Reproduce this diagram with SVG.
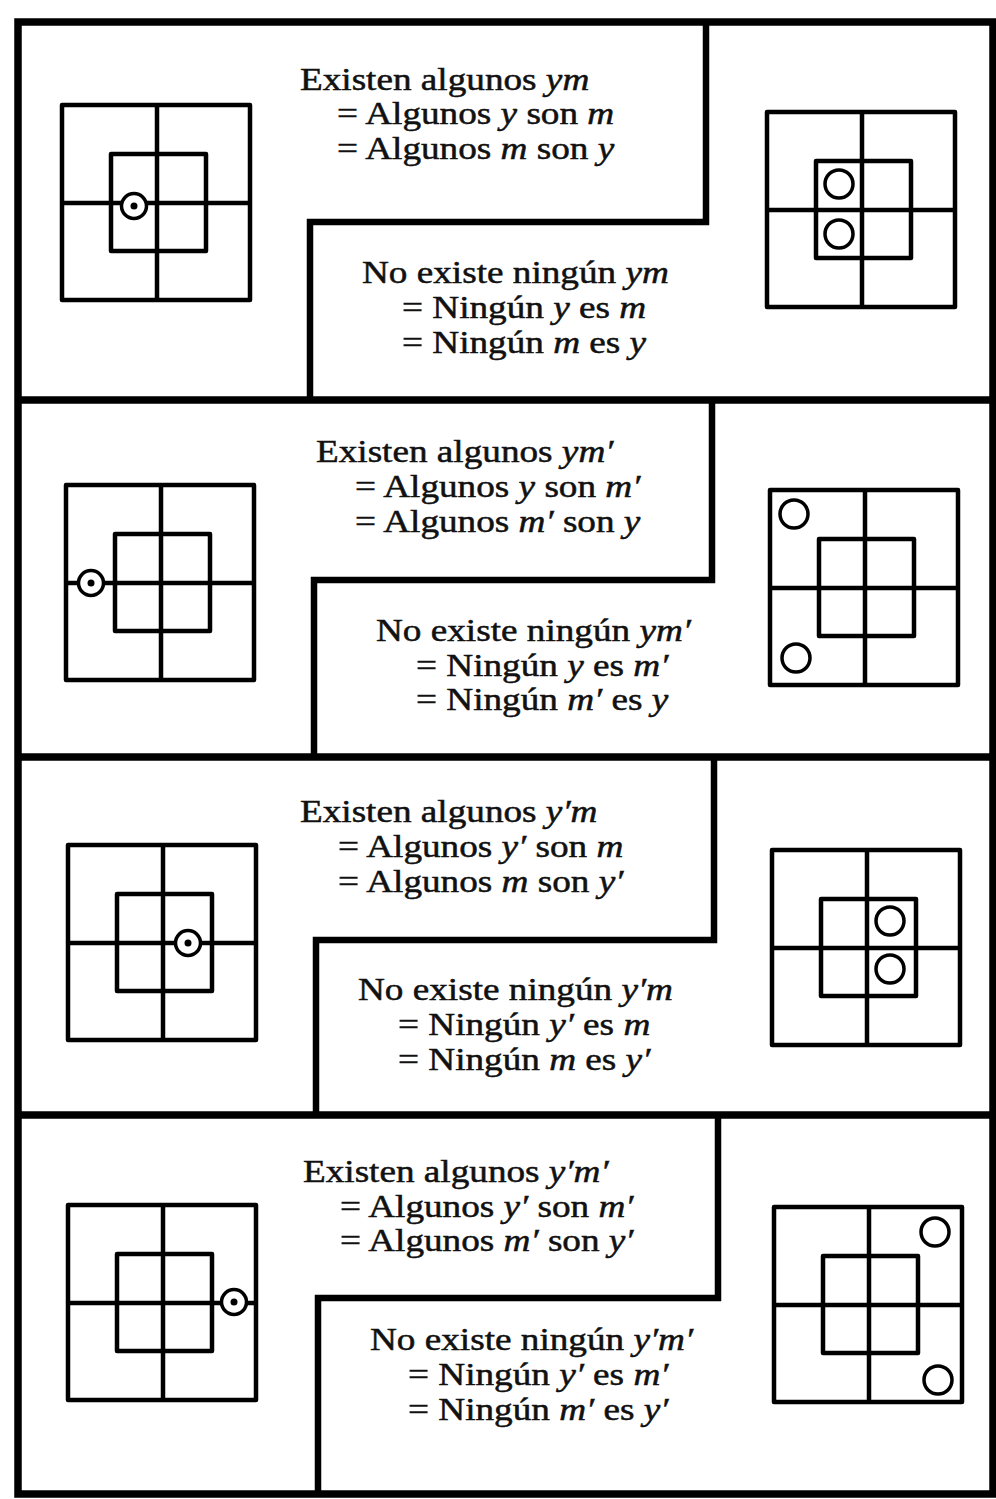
<svg xmlns="http://www.w3.org/2000/svg" xmlns:xlink="http://www.w3.org/1999/xlink" width="996" height="1499" viewBox="0 0 996 1499">
<style>
.frame{fill:none;stroke:#000;stroke-width:7.5;stroke-linejoin:miter}
.step{fill:none;stroke:#000;stroke-width:6.5;stroke-linejoin:miter}
.g{fill:none;stroke:#000;stroke-width:4.5;stroke-linejoin:round}
.c{fill:#fff;stroke:#000;stroke-width:3.5}
.dot{fill:#000}
.t{font-family:"Liberation Serif","Times New Roman",serif;font-size:31px;fill:#111;stroke:#111;stroke-width:0.5}
.i{font-style:italic}
</style>
<defs>
<g id="grid">
<rect class="g" x="0" y="0" width="188" height="195"/>
<line class="g" x1="95" y1="0" x2="95" y2="195"/>
<line class="g" x1="0" y1="98" x2="188" y2="98"/>
<rect class="g" x="49" y="49" width="95" height="97"/>
</g>
<g id="dc"><circle class="c" cx="0" cy="0" r="12.5"/><circle class="dot" cx="0" cy="0" r="3.5"/></g>
<circle id="oc" class="c" cx="0" cy="0" r="14"/>
</defs>
<rect width="996" height="1499" fill="#fff"/>
<g id="connectors"></g>
<g id="frame">
<rect class="frame" x="18" y="22" width="975" height="1472"/>
<line class="frame" x1="18" y1="400" x2="996" y2="400"/>
<line class="frame" x1="18" y1="757" x2="996" y2="757"/>
<line class="frame" x1="18" y1="1115" x2="996" y2="1115"/>
</g>

<g id="panel1">
<polyline class="step" points="706,22 706,222 310,222 310,400"/>
<use xlink:href="#grid" transform="translate(62,105)"/>
<use xlink:href="#dc" transform="translate(134,206)"/>
<use xlink:href="#grid" transform="translate(767,112)"/>
<use xlink:href="#oc" transform="translate(839,184)"/>
<use xlink:href="#oc" transform="translate(839,234)"/>
<text class="t" transform="translate(300,90) scale(1.2,1)">Existen algunos <tspan class="i">ym</tspan></text>
<text class="t" transform="translate(337,124) scale(1.2,1)">= Algunos <tspan class="i">y</tspan> son <tspan class="i">m</tspan></text>
<text class="t" transform="translate(337,159) scale(1.2,1)">= Algunos <tspan class="i">m</tspan> son <tspan class="i">y</tspan></text>
<text class="t" transform="translate(362,283) scale(1.2,1)">No existe ningún <tspan class="i">ym</tspan></text>
<text class="t" transform="translate(402,318) scale(1.2,1)">= Ningún <tspan class="i">y</tspan> es <tspan class="i">m</tspan></text>
<text class="t" transform="translate(402,353) scale(1.2,1)">= Ningún <tspan class="i">m</tspan> es <tspan class="i">y</tspan></text>
</g>

<g id="panel2">
<polyline class="step" points="712,400 712,580 314,580 314,757"/>
<use xlink:href="#grid" transform="translate(66,485)"/>
<use xlink:href="#dc" transform="translate(91,583)"/>
<use xlink:href="#grid" transform="translate(770,490)"/>
<use xlink:href="#oc" transform="translate(794,514)"/>
<use xlink:href="#oc" transform="translate(796,658)"/>
<text class="t" transform="translate(316,462) scale(1.2,1)">Existen algunos <tspan class="i">ym′</tspan></text>
<text class="t" transform="translate(355,497) scale(1.2,1)">= Algunos <tspan class="i">y</tspan> son <tspan class="i">m′</tspan></text>
<text class="t" transform="translate(355,532) scale(1.2,1)">= Algunos <tspan class="i">m′</tspan> son <tspan class="i">y</tspan></text>
<text class="t" transform="translate(376,641) scale(1.2,1)">No existe ningún <tspan class="i">ym′</tspan></text>
<text class="t" transform="translate(416,676) scale(1.2,1)">= Ningún <tspan class="i">y</tspan> es <tspan class="i">m′</tspan></text>
<text class="t" transform="translate(416,710) scale(1.2,1)">= Ningún <tspan class="i">m′</tspan> es <tspan class="i">y</tspan></text>
</g>

<g id="panel3">
<polyline class="step" points="714,757 714,940 316,940 316,1115"/>
<use xlink:href="#grid" transform="translate(68,845)"/>
<use xlink:href="#dc" transform="translate(188,943)"/>
<use xlink:href="#grid" transform="translate(772,850)"/>
<use xlink:href="#oc" transform="translate(890,921)"/>
<use xlink:href="#oc" transform="translate(890,969)"/>
<text class="t" transform="translate(300,822) scale(1.2,1)">Existen algunos <tspan class="i">y′m</tspan></text>
<text class="t" transform="translate(338,857) scale(1.2,1)">= Algunos <tspan class="i">y′</tspan> son <tspan class="i">m</tspan></text>
<text class="t" transform="translate(338,892) scale(1.2,1)">= Algunos <tspan class="i">m</tspan> son <tspan class="i">y′</tspan></text>
<text class="t" transform="translate(358,1000) scale(1.2,1)">No existe ningún <tspan class="i">y′m</tspan></text>
<text class="t" transform="translate(398,1035) scale(1.2,1)">= Ningún <tspan class="i">y′</tspan> es <tspan class="i">m</tspan></text>
<text class="t" transform="translate(398,1070) scale(1.2,1)">= Ningún <tspan class="i">m</tspan> es <tspan class="i">y′</tspan></text>
</g>

<g id="panel4">
<polyline class="step" points="718,1115 718,1298 318,1298 318,1494"/>
<use xlink:href="#grid" transform="translate(68,1205)"/>
<use xlink:href="#dc" transform="translate(234,1302)"/>
<use xlink:href="#grid" transform="translate(774,1207)"/>
<use xlink:href="#oc" transform="translate(935,1232)"/>
<use xlink:href="#oc" transform="translate(938,1380)"/>
<text class="t" transform="translate(303,1182) scale(1.2,1)">Existen algunos <tspan class="i">y′m′</tspan></text>
<text class="t" transform="translate(340,1217) scale(1.2,1)">= Algunos <tspan class="i">y′</tspan> son <tspan class="i">m′</tspan></text>
<text class="t" transform="translate(340,1251) scale(1.2,1)">= Algunos <tspan class="i">m′</tspan> son <tspan class="i">y′</tspan></text>
<text class="t" transform="translate(370,1350) scale(1.2,1)">No existe ningún <tspan class="i">y′m′</tspan></text>
<text class="t" transform="translate(408,1385) scale(1.2,1)">= Ningún <tspan class="i">y′</tspan> es <tspan class="i">m′</tspan></text>
<text class="t" transform="translate(408,1420) scale(1.2,1)">= Ningún <tspan class="i">m′</tspan> es <tspan class="i">y′</tspan></text>
</g>
</svg>
